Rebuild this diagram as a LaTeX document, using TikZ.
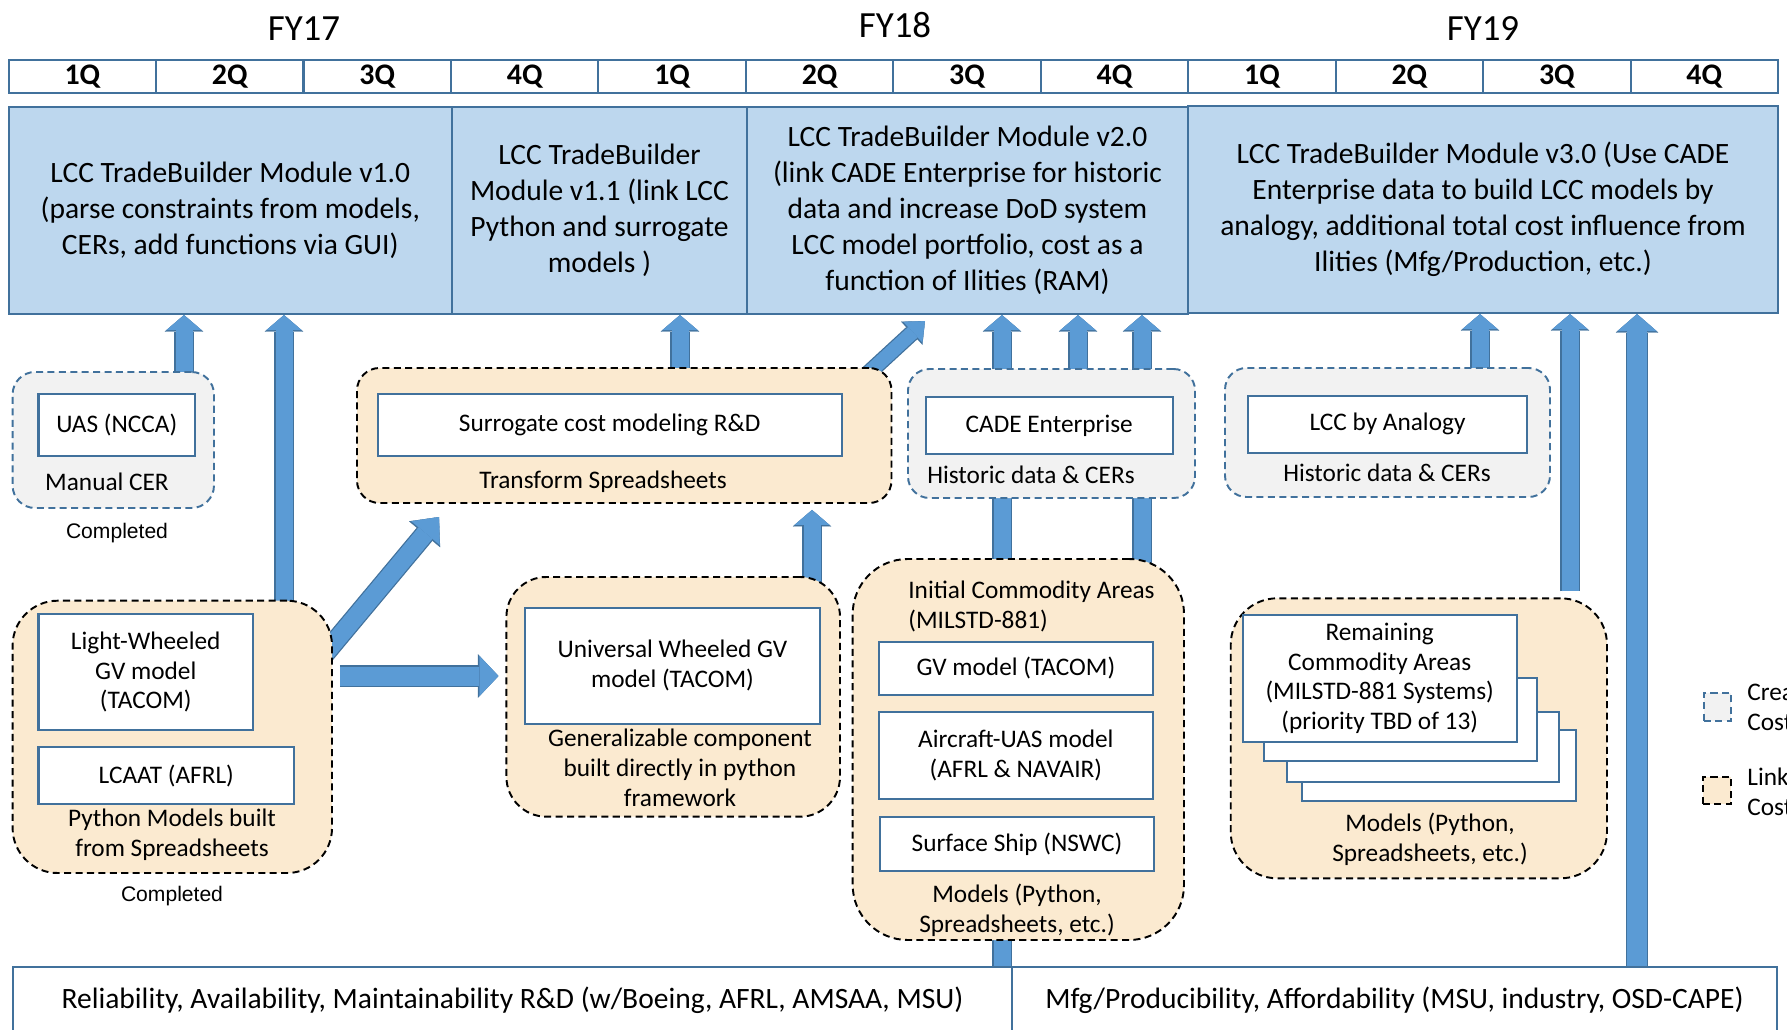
\documentclass[tikz,border=0pt]{standalone}
\usepackage{fontspec}
\setmainfont{Carlito}
\newfontfamily\arialfont{Liberation Sans}
\usetikzlibrary{arrows.meta,positioning,backgrounds}

\definecolor{boxline}{HTML}{41719C}
\definecolor{modfill}{HTML}{BDD7EE}
\definecolor{arrowfill}{HTML}{5B9BD5}
\definecolor{grayfill}{HTML}{F2F2F2}
\definecolor{tanfill}{HTML}{FBEAD0}

\newcommand{\yearfont}{\fontsize{21}{25}\selectfont}
\newcommand{\qfont}{\fontsize{17}{20}\selectfont\bfseries}
\newcommand{\modfont}{\fontsize{16.8}{20.5}\selectfont}
\newcommand{\itemfont}{\fontsize{14.4}{17}\selectfont}
\newcommand{\donefont}{\arialfont\fontsize{12}{14}\selectfont}

\tikzset{
  boxfrom/.style n args={4}{minimum width={((#3)-(#1))*0.02cm}, minimum height={((#4)-(#2))*0.02cm},
    at={({((#1)+(#3))/2},{((#2)+(#4))/2})}},
  quarter/.style={draw=boxline, line width=1.2pt, fill=white, inner sep=0pt, font=\qfont},
  module/.style={draw=boxline, line width=1.2pt, fill=modfill, inner sep=0pt, align=center, font=\modfont},
  rdbox/.style={draw=boxline, line width=1.2pt, fill=white, inner sep=0pt, align=center, font=\modfont},
  item/.style={draw=boxline, line width=1.2pt, fill=white, inner sep=0pt, align=center, font=\itemfont},
  createdgrp/.style={draw=boxline, line width=1.1pt, dash pattern=on 4pt off 2.5pt, fill=grayfill, inner sep=0pt, rounded corners=#1},
  linkedgrp/.style={draw=black, line width=1.1pt, dash pattern=on 4pt off 2.5pt, fill=tanfill, inner sep=0pt, rounded corners=#1},
  grplabel/.style={inner sep=0pt, align=center, font=\itemfont},
  donelabel/.style={inner sep=0pt, font=\donefont},
  yearlabel/.style={inner sep=0pt, font=\yearfont},
  tuck/.style={shorten <=-0.2cm},
  flow/.style={draw=arrowfill, line width=0.34cm, -{Triangle[length=0.30cm,width=0.70cm,line width=0.1pt]},
    preaction={draw=boxline, line width=0.39cm, -{Triangle[length=0.33cm,width=0.77cm,line width=0.1pt]}}},
  wideflow/.style={draw=arrowfill, line width=0.40cm, -{Triangle[length=0.34cm,width=0.78cm,line width=0.1pt]},
    preaction={draw=boxline, line width=0.45cm, -{Triangle[length=0.37cm,width=0.85cm,line width=0.1pt]}}},
  sideflow/.style={draw=arrowfill, line width=0.38cm, -{Triangle[length=0.38cm,width=0.80cm,line width=0.1pt]},
    preaction={draw=boxline, line width=0.43cm, -{Triangle[length=0.41cm,width=0.87cm,line width=0.1pt]}}},
  diagflow/.style={draw=arrowfill, line width=0.36cm, -{Triangle[length=0.42cm,width=0.74cm,line width=0.1pt]},
    preaction={draw=boxline, line width=0.41cm, -{Triangle[length=0.45cm,width=0.81cm,line width=0.1pt]}}},
  slimflow/.style={draw=arrowfill, line width=0.28cm, -{Triangle[length=0.33cm,width=0.56cm,line width=0.1pt]},
    preaction={draw=boxline, line width=0.33cm, -{Triangle[length=0.36cm,width=0.63cm,line width=0.1pt]}}},
}

\begin{document}
\begin{tikzpicture}[x=0.02cm, y=-0.02cm]
\useasboundingbox (0,0) rectangle (1787,1030);

\node[yearlabel] (fy17) at (304,29) {FY17};
\node[yearlabel] (fy18) at (895,25) {FY18};
\node[yearlabel] (fy19) at (1483,29) {FY19};

\foreach \q [count=\i from 0] in {1Q,2Q,3Q,4Q,1Q,2Q,3Q,4Q,1Q,2Q,3Q,4Q}
  \node[quarter, boxfrom={8.6+147.45*\i}{60}{8.6+147.45*(\i+1)}{93}] (q\i) {\q};

% -------------------------------

\node[module, boxfrom={8.6}{107}{452}{314}] (v10) {LCC TradeBuilder Module v1.0\\(parse constraints from models,\\CERs, add functions via GUI)};
\node[module, boxfrom={452}{107}{747}{314}] (v11) {LCC TradeBuilder\\Module v1.1 (link LCC\\Python and surrogate\\models )};
\node[module, boxfrom={747}{107}{1188}{314}] (v20) {LCC TradeBuilder Module v2.0\\(link CADE Enterprise for historic\\data and increase DoD system\\LCC model portfolio, cost as a\\function of Ilities (RAM)};
\node[module, boxfrom={1188}{106}{1778}{313}] (v30) {LCC TradeBuilder Module v3.0 (Use CADE\\Enterprise data to build LCC models by\\analogy, additional total cost influence from\\Ilities (Mfg/Production, etc.)};

\node[rdbox, boxfrom={13}{967}{1012}{1033}] (rambox) {Reliability, Availability, Maintainability R\&D (w/Boeing, AFRL, AMSAA, MSU)};
\node[rdbox, boxfrom={1012}{967}{1777}{1033}] (mfgbox) {Mfg/Producibility, Affordability (MSU, industry, OSD-CAPE)};

% -------------------------------

\node[createdgrp=0.45cm, boxfrom={12.6}{372}{214}{508}] (uasgrp) {};
\node[item, boxfrom={38.5}{394}{195}{455.7}] (uasbox) {UAS (NCCA)};
\node[grplabel] (uaslbl) at (107,482) {Manual CER};
\node[donelabel] (uasdone) at (117,533) {Completed};

\node[linkedgrp=0.45cm, boxfrom={357}{368}{891.5}{503}] (trgrp) {};
\node[item, boxfrom={377.7}{394}{841.6}{455.7}] (srbox) {Surrogate cost modeling R\&D};
\node[grplabel] (trlbl) at (603,482) {Transform Spreadsheets};

\node[createdgrp=0.43cm, boxfrom={908}{369}{1195}{498}] (cadegrp) {};
\node[item, boxfrom={925.7}{396.7}{1172.7}{454}] (cadebox) {CADE Enterprise};
\node[grplabel] (cadelbl) at (1031,475) {Historic data \& CERs};

\node[createdgrp=0.43cm, boxfrom={1225}{368}{1550}{497}] (lccgrp) {};
\node[item, boxfrom={1248}{395.7}{1527}{453}] (lccbox) {LCC by Analogy};
\node[grplabel] (lcclbl) at (1387,473) {Historic data \& CERs};

% -------------------------------

\node[linkedgrp=0.9cm, boxfrom={12.6}{600.7}{332}{873}] (pygrp) {};
\node[item, boxfrom={38.5}{614}{253}{730}] (lwbox) {Light-Wheeled\\GV model\\(TACOM)};
\node[item, boxfrom={38.5}{747.3}{294}{804}] (lcaatbox) {LCAAT (AFRL)};
\node[grplabel] (pylbl) at (172,835) {Python Models built\\from Spreadsheets};
\node[donelabel] (pydone) at (172,896) {Completed};

\node[linkedgrp=0.8cm, boxfrom={506.4}{577}{840}{816.7}] (unigrp) {};
\node[item, boxfrom={525}{607.7}{820}{723.7}] (unibox) {Universal Wheeled GV\\model (TACOM)};
\node[grplabel] (unilbl) at (680,768) {Generalizable component\\built directly in python\\framework};

\node[linkedgrp=1.1cm, boxfrom={852.7}{559}{1184}{940}] (initgrp) {};
\node[grplabel, align=left, anchor=west] (initlbl) at (908,606.7) {Initial Commodity Areas\\(MILSTD-881)};
\node[item, boxfrom={879}{641.7}{1152.7}{695}] (gvbox) {GV model (TACOM)};
\node[item, boxfrom={879}{712.3}{1152.7}{798.7}] (acbox) {Aircraft-UAS model\\(AFRL \& NAVAIR)};
\node[item, boxfrom={880}{816.7}{1154}{871}] (shipbox) {Surface Ship (NSWC)};
\node[grplabel] (initmod) at (1017,910) {Models (Python,\\Spreadsheets, etc.)};

\node[linkedgrp=0.93cm, boxfrom={1230.7}{598.3}{1607}{878.3}] (remgrp) {};
\node[item, boxfrom={1302.3}{730}{1576}{800.7}] (rem4) {};
\node[item, boxfrom={1286.7}{711.7}{1558.7}{782.3}] (rem3) {};
\node[item, boxfrom={1264}{677.7}{1537.3}{761}] (rem2) {};
\node[item, boxfrom={1242.7}{615}{1516.7}{741.7}] (rem1) {Remaining\\Commodity Areas\\(MILSTD-881 Systems)\\(priority TBD of 13)};
\node[grplabel] (remmod) at (1430,839.5) {Models (Python,\\Spreadsheets, etc.)};

% legend
\node[createdgrp=0pt, boxfrom={1704}{693}{1731}{721}] (keycreated) {};
\node[grplabel, align=left, anchor=west] (keycreatedtxt) at (1747,707) {Crea\\Cost};
\node[linkedgrp=0pt, boxfrom={1703}{777}{1731}{804}] (keylinked) {};
\node[grplabel, align=left, anchor=west] (keylinkedtxt) at (1747,792) {Link\\Cost};

\coordinate (trgate) at (439,517);
\coordinate (v20gate) at (925,321);

\begin{scope}[on background layer]
\draw[flow, tuck] (uasgrp.north -| 184,0) -- (v10.south -| 184,0);
\draw[flow, tuck] (pygrp.north -| 284,0) -- (v10.south -| 284,0);
\draw[diagflow, shorten <=-0.5cm] (pygrp.east |- 0,644) -- (trgate);
\draw[sideflow, shorten <=0.14cm, shorten >=0.14cm] (pygrp.east |- 0,676) -- (unigrp.west |- 0,676);
\draw[flow, tuck, shorten >=0.12cm] (unigrp.north -| 812,0) -- (trgrp.south -| 812,0);
\draw[flow, tuck] (trgrp.north -| 680,0) -- (v11.south -| 680,0);
\draw[slimflow, shorten <=-0.3cm] (trgrp.north -| 875,0) -- (v20gate);
\draw[flow] (rambox.north -| 1002,0) -- (v20.south -| 1002,0);
\draw[flow, tuck] (cadegrp.north -| 1078,0) -- (v20.south -| 1078,0);
\draw[flow, tuck] (initgrp.north -| 1142,0) -- (v20.south -| 1142,0);
\draw[flow, tuck] (lccgrp.north -| 1480,0) -- (v30.south -| 1480,0);
\draw[flow, shorten <=0.12cm] (remgrp.north -| 1570,0) -- (v30.south -| 1570,0);
\draw[wideflow] (mfgbox.north -| 1637,0) -- (v30.south -| 1637,0);
\end{scope}
\end{tikzpicture}
\end{document}
